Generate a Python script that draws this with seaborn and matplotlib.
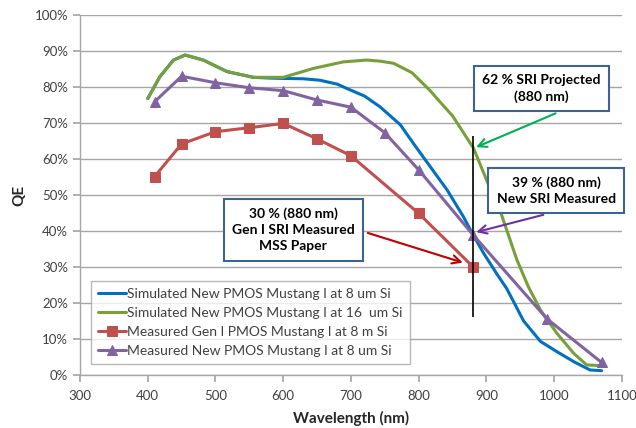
import matplotlib
matplotlib.use("Agg")
import matplotlib.pyplot as plt
import seaborn as sns
import pandas as pd
from matplotlib.ticker import PercentFormatter

# ---------------- data ----------------
sim8_wl = [400, 418, 438, 455, 482, 517, 556, 580, 600, 630, 654, 680, 694, 720, 743, 773, 792,
           817, 842, 866, 879, 896, 915, 930, 955, 980, 1004, 1029, 1053, 1070]
sim8_qe = [76.8, 82.9, 87.5, 88.9, 87.5, 84.3, 82.7, 82.5, 82.4, 82.3, 81.9, 80.8, 79.6, 77.5, 74.5, 69.5, 64.4,
           57.9, 51.4, 44.0, 39.4, 33.8, 28.2, 24.0, 15.0, 9.3, 6.5, 3.7, 1.4, 1.2]

sim16_wl = [400, 418, 438, 455, 482, 517, 556, 600, 645, 689, 723, 743, 763, 790, 817, 829, 850, 881,
            905, 920, 945, 962, 980, 1004, 1029, 1048, 1070]
sim16_qe = [76.8, 82.9, 87.5, 88.9, 87.5, 84.3, 82.7, 82.7, 85.2, 87.0, 87.5, 87.2, 86.6, 84, 79, 76.4, 72, 63.0,
            52, 45.8, 32, 24.5, 18, 11.6, 6, 2.8, 2.6]

gen1_wl = [410, 450, 500, 550, 600, 650, 700, 800, 880]
gen1_qe = [55.1, 64.2, 67.6, 68.7, 69.9, 65.6, 60.9, 44.9, 30.1]

new8_wl = [410, 450, 500, 550, 600, 650, 700, 750, 800, 880, 990, 1070]
new8_qe = [75.9, 83.0, 81.2, 79.8, 79.0, 76.4, 74.4, 67.3, 57.0, 39.0, 15.5, 3.5]

labels = ["Simulated New PMOS Mustang I at 8 um Si",
          "Simulated New PMOS Mustang I at 16  um Si",
          "Measured Gen I PMOS Mustang I at 8 m Si",
          "Measured New PMOS Mustang I at 8 um Si"]
colors = ["#0070C0", "#77A03A", "#C0504D", "#8064A2"]

x_ticks = [300, 400, 500, 600, 700, 800, 900, 1000, 1100]
y_ticks = [0, 10, 20, 30, 40, 50, 60, 70, 80, 90, 100]

ann_texts = ["62 % SRI Projected\n(880 nm)",
             "39 % (880 nm)\nNew SRI Measured",
             "30 % (880 nm)\nGen I SRI Measured\nMSS Paper"]
ann_targets = [(881, 63.0), (881, 39.5), (869, 31.0)]
ann_anchor = [(1006, 73.0), (988, 44.7), (721, 39.7)]
ann_box_center = [(981, 79.6), (1003, 51.3), (615, 40.3)]
ann_colors = ["#00B050", "#7030A0", "#C00000"]
vline_x = 880
vline_range = (16.2, 66.5)

# ---------------- plot ----------------
sns.set_theme(style="white")
plt.rcParams['font.family'] = ['Lato', 'DejaVu Sans']

fig = plt.figure(figsize=(6.36, 4.28), dpi=100)
ax = fig.add_axes([0.1258, 0.1238, 0.852, 0.841])

series = [
    (sim8_wl, sim8_qe, None),
    (sim16_wl, sim16_qe, None),
    (gen1_wl, gen1_qe, "s"),
    (new8_wl, new8_qe, "^"),
]
for (wl, qe, mk), lab, col in zip(series, labels, colors):
    df = pd.DataFrame({"wl": wl, "qe": qe})
    kw = dict(marker=mk, markersize=7, markeredgecolor=col, markerfacecolor=col) if mk else {}
    sns.lineplot(data=df, x="wl", y="qe", ax=ax, color=col, linewidth=2.2, sort=False,
                 label=lab, **kw)

ax.vlines(vline_x, *vline_range, color="black", linewidth=1.2, zorder=5)

for txt, tgt, anc, ctr, col in zip(ann_texts, ann_targets, ann_anchor, ann_box_center, ann_colors):
    ax.text(ctr[0], ctr[1], txt, ha="center", va="center", fontsize=10, fontweight="bold",
            color="black", zorder=7, linespacing=1.4,
            bbox=dict(boxstyle="square,pad=0.6", facecolor="white", edgecolor="#3F6390", linewidth=1.5))
    ax.annotate("", xy=tgt, xytext=anc, zorder=6,
                arrowprops=dict(arrowstyle="->", color=col, lw=1.5, mutation_scale=15))

ax.set_xlim(300, 1100)
ax.set_ylim(0, 100)
ax.set_xticks(x_ticks)
ax.set_yticks(y_ticks)
ax.yaxis.set_major_formatter(PercentFormatter(decimals=0))
ax.grid(axis="y", color="#A6A6A6", linewidth=1.0)
ax.set_axisbelow(True)
for s in ["top", "right"]:
    ax.spines[s].set_visible(False)
for s in ["left", "bottom"]:
    ax.spines[s].set_color("#A6A6A6")
    ax.spines[s].set_linewidth(1.0)
ax.tick_params(axis="x", which="both", bottom=True, length=5, color="#A6A6A6", labelsize=9.5,
               labelcolor="#404040", direction="out", pad=6)
ax.tick_params(axis="y", which="both", left=True, length=5, color="#A6A6A6", labelsize=9.5,
               labelcolor="#404040", direction="out")
ax.set_xlabel("Wavelength (nm)", fontsize=11, fontweight="bold", color="#262626", labelpad=6)
ax.set_ylabel("QE", fontsize=11, fontweight="bold", color="#262626", labelpad=6)

leg = ax.legend(loc="lower left", bbox_to_anchor=(0.008, 0.012), fontsize=10, frameon=True,
                fancybox=False, edgecolor="#A6A6A6", handlelength=2.0, handletextpad=0.1,
                borderpad=0.5, labelspacing=0.5)
leg.get_frame().set_linewidth(1.0)
for t in leg.get_texts():
    t.set_color("#404040")

fig.savefig("out.png", dpi=100)
